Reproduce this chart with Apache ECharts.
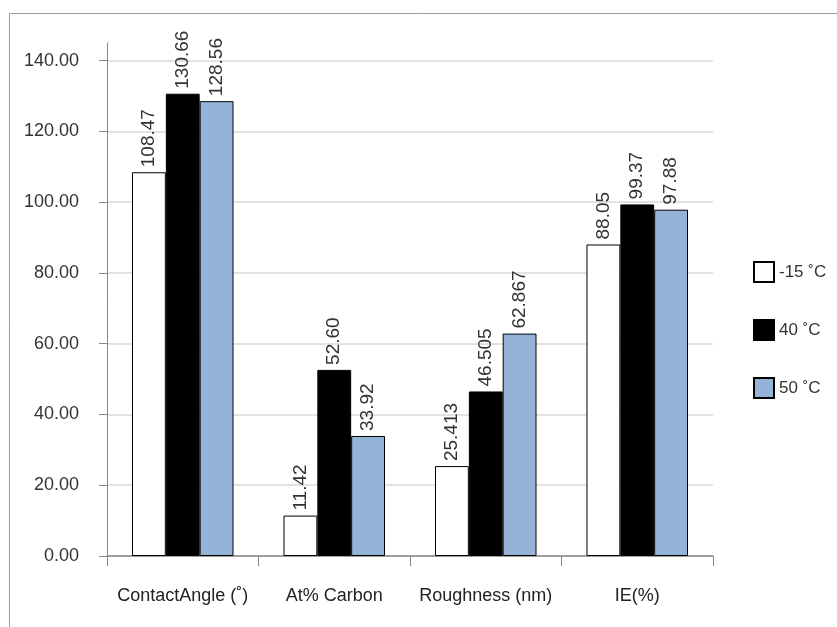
<!DOCTYPE html>
<html>
<head>
<meta charset="utf-8">
<script src="https://cdn.jsdelivr.net/npm/echarts@6/dist/echarts.min.js"></script>
<style>
  html, body { margin: 0; padding: 0; background: #fff; }
  #chart { width: 837px; height: 627px; }
</style>
</head>
<body>
<div id="chart"></div>
<script>
// Categories and series
const categories = ['ContactAngle (˚)', 'At% Carbon', 'Roughness (nm)', 'IE(%)'];
const seriesNames = ['-15 ˚C', '40 ˚C', '50 ˚C'];
const valuesMinus15 = ['108.47', '11.42', '25.413', '88.05'];
const values40 = ['130.66', '52.60', '46.505', '99.37'];
const values50 = ['128.56', '33.92', '62.867', '97.88'];
const yTicks = [0, 20, 40, 60, 80, 100, 120, 140];

const fills = ['#ffffff', '#000000', '#95b3d7'];
const font = 'Liberation Sans, Arial, sans-serif';

function makeSeries(name, vals, color) {
  return {
    name: name,
    type: 'bar',
    data: vals.map(v => ({ value: parseFloat(v), text: v })),
    barGap: '0%',
    barCategoryGap: '33%',
    itemStyle: { color: color, borderColor: '#000', borderWidth: 1 },
    label: {
      show: true,
      position: 'top',
      rotate: 90,
      align: 'left',
      verticalAlign: 'middle',
      distance: 5,
      fontFamily: font,
      fontSize: 19,
      color: '#333',
      formatter: p => p.data.text
    },
    emphasis: { disabled: true }
  };
}

const chart = echarts.init(document.getElementById('chart'), null, { renderer: 'canvas' });
chart.setOption({
  animation: false,
  backgroundColor: '#fff',
  graphic: [{
    type: 'rect',
    left: 7, top: 11,
    shape: { width: 900, height: 700 },
    style: { fill: 'none', stroke: '#9a9a9a', lineWidth: 1 },
    silent: true
  }],
  grid: { left: 107, right: 124, top: 43, bottom: 71, containLabel: false },
  legend: {
    orient: 'vertical',
    left: 748, top: 256,
    itemWidth: 20, itemHeight: 20,
    itemGap: 36,
    icon: 'rect',
    selectedMode: false,
    textStyle: { fontFamily: font, fontSize: 17, color: '#333', padding: [0, 0, 0, 0] },
    data: seriesNames
  },
  xAxis: {
    type: 'category',
    data: categories,
    axisLine: { lineStyle: { color: '#888', width: 1.5 } },
    axisTick: { show: true, length: 10, lineStyle: { color: '#888' } },
    axisLabel: {
      interval: 0, hideOverlap: false,
      fontFamily: font, fontSize: 18, color: '#222', margin: 31
    }
  },
  yAxis: {
    type: 'value',
    min: yTicks[0],
    max: 145,
    interval: 20,
    axisLine: { show: true, lineStyle: { color: '#888', width: 1 } },
    axisTick: { show: true, length: 8, lineStyle: { color: '#888' } },
    axisLabel: {
      fontFamily: font, fontSize: 18, color: '#333', margin: 28,
      showMaxLabel: false,
      formatter: v => (yTicks.indexOf(v) >= 0 ? v.toFixed(2) : '')
    },
    splitLine: { show: true, showMaxLine: false, lineStyle: { color: '#d9d9d9', width: 1.5 } }
  },
  series: [
    makeSeries(seriesNames[0], valuesMinus15, fills[0]),
    makeSeries(seriesNames[1], values40, fills[1]),
    makeSeries(seriesNames[2], values50, fills[2])
  ]
});
</script>
</body>
</html>
